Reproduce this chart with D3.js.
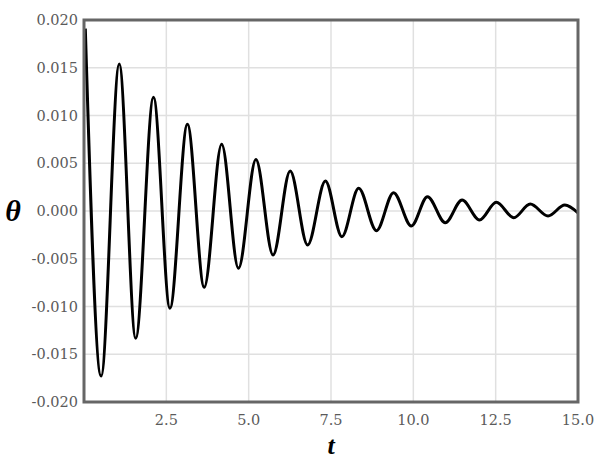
<!DOCTYPE html>
<html>
<head>
<meta charset="utf-8">
<script src="https://cdn.jsdelivr.net/npm/d3@7"></script>
<style>
  html, body { margin: 0; padding: 0; background: #fff; }
  svg { display: block; }
</style>
</head>
<body>
<div id="chart"></div>
<script>
// extrema of the damped oscillation
const tVals = [0.04, 0.52, 1.07, 1.57, 2.11, 2.61, 3.14, 3.65, 4.18, 4.69, 5.22,
  5.74, 6.26, 6.79, 7.33, 7.83, 8.34, 8.88, 9.40, 9.94, 10.43, 10.97, 11.48,
  12.01, 12.52, 13.05, 13.55, 14.09, 14.60, 15.0];
const thetaVals = [0.0191, -0.01728, 0.01538, -0.01333, 0.0119, -0.01019, 0.00908,
  -0.00799, 0.00698, -0.0060, 0.0054, -0.00461, 0.00419, -0.00356, 0.00314,
  -0.00269, 0.00238, -0.00206, 0.00192, -0.00157, 0.0015, -0.00123, 0.00115,
  -0.00094, 0.00091, -0.0007, 0.00073, -0.00052, 0.00063, -0.0002];
const xTicks = [2.5, 5.0, 7.5, 10.0, 12.5, 15.0];
const yTicks = [0.020, 0.015, 0.010, 0.005, 0.000, -0.005, -0.010, -0.015, -0.020];

const width = 607, height = 469;
const margin = {top: 20, right: 29, bottom: 67, left: 84};

const svg = d3.select("#chart").append("svg")
    .attr("width", width)
    .attr("height", height);

const x = d3.scaleLinear().domain([0, 15]).range([margin.left, width - margin.right]);
const y = d3.scaleLinear().domain([-0.02, 0.02]).range([height - margin.bottom, margin.top]);

// grid
svg.append("g")
    .attr("stroke", "#e0e0e0")
    .attr("stroke-width", 1.5)
  .selectAll("line.gx")
  .data(xTicks.filter(d => d < 15))
  .join("line")
    .attr("x1", d => x(d)).attr("x2", d => x(d))
    .attr("y1", y(0.02)).attr("y2", y(-0.02));

svg.append("g")
    .attr("stroke", "#e0e0e0")
    .attr("stroke-width", 1.5)
  .selectAll("line.gy")
  .data(yTicks.filter(d => Math.abs(d) < 0.02))
  .join("line")
    .attr("x1", x(0)).attr("x2", x(15))
    .attr("y1", d => y(d)).attr("y2", d => y(d));

// curve
const pts = tVals.map((t, i) => [t, thetaVals[i]]);
const line = d3.line()
    .x(d => x(d[0]))
    .y(d => y(d[1]))
    .curve(d3.curveMonotoneX);

svg.append("path")
    .datum(pts)
    .attr("fill", "none")
    .attr("stroke", "#000")
    .attr("stroke-width", 3)
    .attr("stroke-linejoin", "round")
    .attr("d", line);

// frame
svg.append("rect")
    .attr("x", x(0)).attr("y", y(0.02))
    .attr("width", x(15) - x(0))
    .attr("height", y(-0.02) - y(0.02))
    .attr("fill", "none")
    .attr("stroke", "#666")
    .attr("stroke-width", 3);

// tick labels
svg.append("g")
    .attr("font-family", "DejaVu Serif")
    .attr("font-size", 14.5)
    .attr("fill", "#5a5a5a")
    .attr("text-anchor", "end")
  .selectAll("text")
  .data(yTicks)
  .join("text")
    .attr("x", x(0) - 6)
    .attr("y", d => y(d))
    .attr("dy", "0.35em")
    .text(d => d3.format(".3f")(d).replace("−", "-"));

svg.append("g")
    .attr("font-family", "DejaVu Serif")
    .attr("font-size", 14.5)
    .attr("fill", "#5a5a5a")
    .attr("text-anchor", "middle")
  .selectAll("text")
  .data(xTicks)
  .join("text")
    .attr("x", d => x(d))
    .attr("y", y(-0.02) + 23)
    .text(d => d3.format(".1f")(d));

// axis titles
svg.append("text")
    .attr("x", 13)
    .attr("y", y(0))
    .attr("dy", "0.33em")
    .attr("text-anchor", "middle")
    .attr("font-family", "Liberation Serif")
    .attr("font-style", "italic")
    .attr("font-weight", "bold")
    .attr("font-size", 30)
    .attr("fill", "#000")
    .text("θ");

svg.append("text")
    .attr("x", x(7.5))
    .attr("y", 454)
    .attr("text-anchor", "middle")
    .attr("font-family", "Liberation Serif")
    .attr("font-style", "italic")
    .attr("font-weight", "bold")
    .attr("font-size", 26)
    .attr("fill", "#000")
    .text("t");
</script>
</body>
</html>
